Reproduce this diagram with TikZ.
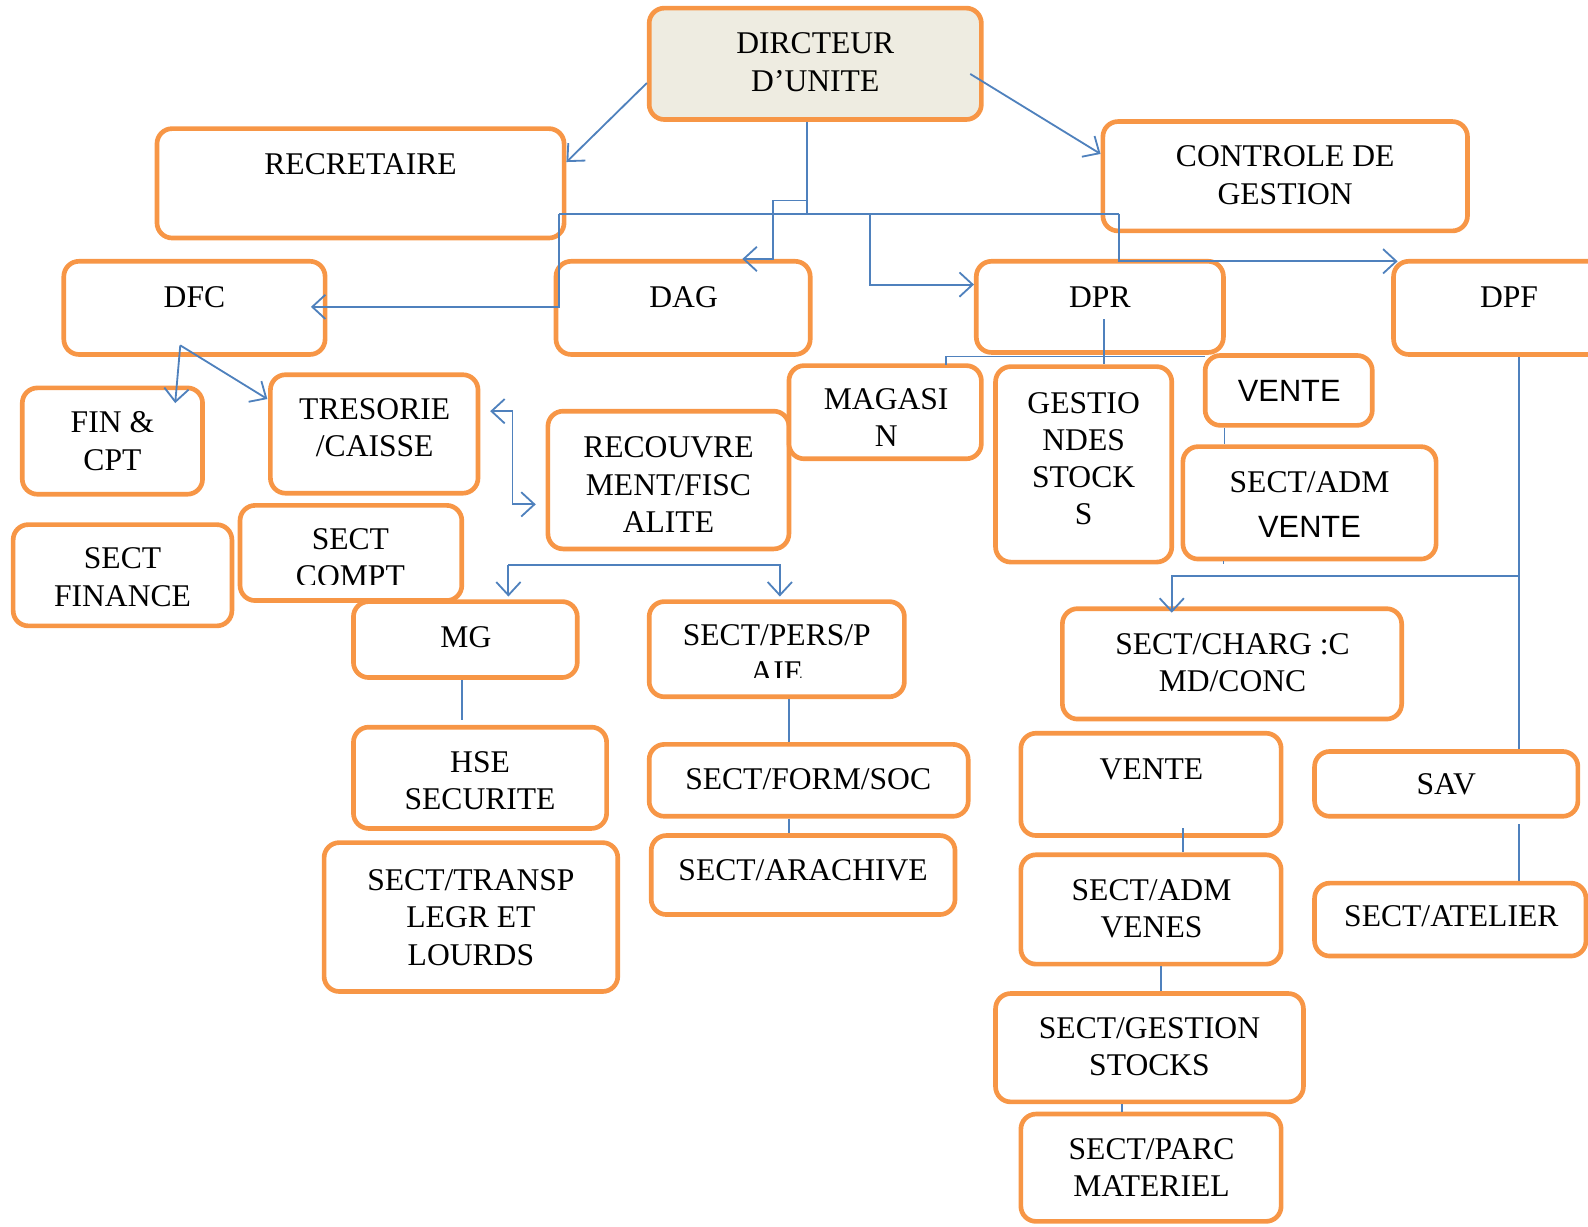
\documentclass[tikz,border=0pt]{standalone}
\usepackage{fontspec}
\setmainfont{Liberation Serif}
\newfontfamily\sansf{Liberation Sans}
\usetikzlibrary{arrows.meta,fit}
\definecolor{orgB}{HTML}{F79646}
\definecolor{bluL}{HTML}{4F81BD}
\definecolor{dirF}{HTML}{EEECE1}
\begin{document}
\begin{tikzpicture}[x=0.5pt,y=-0.5pt,
  box/.style={draw=orgB, line width=2.3pt, rounded corners=7.5pt, fill=white, inner sep=0pt},
  lbl/.style={inner sep=0pt, align=center, font=\fontsize{15.6}{18.4}\selectfont},
  conn/.style={draw=bluL, line width=0.9pt},
  arr/.style={conn, -{Straight Barb[length=6.5pt,width=12pt]}},
  darr/.style={conn, {Straight Barb[length=6.5pt,width=12pt]}-{Straight Barb[length=6.5pt,width=12pt]}}
]
\clip (0,0) rectangle (1568,1211);
% boxes
\node[box, fill=dirF, fit={(641,8) (969,118)}] (dir) {};
\node[box, fit={(155,127) (557,235)}] (rec) {};
\node[box, fit={(1089,120) (1449,228)}] (ctrl) {};
\node[box, fit={(63,258) (321,350)}] (dfc) {};
\node[box, fit={(549,258) (800,350)}] (dag) {};
\node[box, fit={(964,258) (1208,348)}] (dpr) {};
\node[box, fit={(1376,258) (1600,350)}] (dpf) {};
\node[box, fit={(22,383) (200,488)}] (fin) {};
\node[box, fit={(267,370) (472,487)}] (tres) {};
\node[box, fit={(541,406) (779,542)}] (recv) {};
\node[box, fit={(779,361) (969,453)}] (mag) {};
\node[box, fit={(983,362) (1157,555)}] (gest) {};
\node[box, fit={(1190,351) (1355,420)}] (vente1) {};
\node[box, fit={(1168,441) (1418,552)}] (sadmv) {};
\node[box, fit={(13,518) (229,618)}] (sfin) {};
\node[box, fit={(237,499) (456,593)}] (scompt) {};
\node[box, fit={(349,594) (570,669)}] (mg) {};
\node[box, fit={(641,594) (893,688)}] (pers) {};
\node[box, fit={(1049,601) (1384,710)}] (charg) {};
\node[box, fit={(349,718) (599,818)}] (hse) {};
\node[box, fit={(641,735) (956,806)}] (form) {};
\node[box, fit={(1008,724) (1265,825)}] (vente2) {};
\node[box, fit={(1298,742) (1558,806)}] (sav) {};
\node[box, fit={(320,832) (610,979)}] (transp) {};
\node[box, fit={(643,825) (943,903)}] (arch) {};
\node[box, fit={(1008,844) (1265,952)}] (venes) {};
\node[box, fit={(1298,872) (1566,944)}] (atel) {};
\node[box, fit={(983,981) (1287,1088)}] (gstk) {};
\node[box, fit={(1008,1100) (1265,1206)}] (parc) {};
% labels
\node[lbl] (t-dir) at (805,61.5) {DIRCTEUR\\D’UNITE};
\node[lbl] (t-rec) at (356,162) {RECRETAIRE};
\node[lbl] (t-ctrl) at (1269,173) {CONTROLE DE\\GESTION};
\node[lbl] (t-dfc) at (192,293) {DFC};
\node[lbl] (t-dag) at (675,293) {DAG};
\node[lbl] (t-dpr) at (1086,293) {DPR};
\node[lbl] (t-dpf) at (1490,293) {DPF};
\node[lbl] (t-fin) at (111,435.5) {FIN \&\\CPT};
\node[lbl] (t-tres) at (370,422.5) {TRESORIE\\/CAISSE};
\node[lbl] (t-recv) at (660,478.5) {RECOUVRE\\MENT/FISC\\ALITE};
\node[lbl] (t-mag) at (875,412.5) {MAGASI\\N};
\node[lbl] (t-gest) at (1070,453) {GESTIO\\NDES\\STOCK\\S};
\node[lbl, font=\fontsize{15.2}{18.4}\sansf] (t-vente1) at (1273,386) {VENTE};
\node[lbl] (t-sadmv) at (1293,498) {SECT/ADM\\[3.5pt]{\sansf\fontsize{15.2}{18.4}\selectfont VENTE}};
\node[lbl] (t-sfin) at (121,570) {SECT\\FINANCE};
\begin{scope}
\clip (237,499) rectangle (456,577);
\node[lbl] (t-scompt) at (346,551) {SECT\\COMPT};
\end{scope}
\node[lbl] (t-mg) at (460,629) {MG};
\begin{scope}
\clip (641,594) rectangle (893,669);
\node[lbl] (t-pers) at (767,645) {SECT/PERS/P\\AIE};
\end{scope}
\node[lbl] (t-charg) at (1217,654) {SECT/CHARG :C\\MD/CONC};
\node[lbl] (t-hse) at (474,770.5) {HSE\\SECURITE};
\node[lbl] (t-form) at (798,769) {SECT/FORM/SOC};
\node[lbl] (t-vente2) at (1137,760) {VENTE};
\node[lbl] (t-sav) at (1428,774) {SAV};
\node[lbl] (t-transp) at (465,906) {SECT/TRANSP\\LEGR ET\\LOURDS};
\node[lbl] (t-arch) at (793,859) {SECT/ARACHIVE};
\node[lbl] (t-venes) at (1137,897.5) {SECT/ADM\\VENES};
\node[lbl] (t-atel) at (1433,905) {SECT/ATELIER};
\node[lbl] (t-gstk) at (1135,1033.5) {SECT/GESTION\\STOCKS};
\node[lbl] (t-parc) at (1137,1153) {SECT/PARC\\MATERIEL};
% junction coordinates
\coordinate (jt) at (797,211);
\coordinate (jl) at (552,211);
\coordinate (jr) at (1105,211);
\coordinate (jm) at (859,211);
\coordinate (jdag) at (763,198);
\coordinate (jfc) at (178,341);
\coordinate (jdpr) at (1090,352);
\coordinate (jdpf) at (1500,569);
\coordinate (jbr) at (502,558);
% connectors
\draw[arr] (dir.west |- 0,82) -- (rec.east |- 0,160);
\draw[arr] (958,73) -- (ctrl.west |- 0,152);
\draw[conn] (797,0 |- dir.south) -- (jt);
\draw[conn] (jl) -- (jr);
\draw[arr] (797,198) -- (jdag) -- (763,0 |- dag.north) -- (733,0 |- dag.north);
\draw[arr] (jl) -- (552,303) -- (307,303);
\draw[arr] (jm) -- (859,281) -- (dpr.west |- 0,281);
\draw[arr] (jr) -- (1105,258) -- (1380,258);
\draw[arr] (jfc) -- (173,398);
\draw[arr] (jfc) -- (264,394);
\draw[darr] (484,406) -- (506,406) -- (506,498) -- (529,498);
\draw[arr] (jbr) -- (502,589);
\draw[arr] (jbr) -- (770,558) -- (770,589);
\draw[conn] (456,0 |- mg.south) -- (456,711);
\draw[conn] (779,0 |- pers.south) -- (779,0 |- form.north);
\draw[conn] (779,0 |- form.south) -- (779,0 |- arch.north);
\draw[conn] (1090,315) -- (1090,0 |- gest.north);
\draw[conn] (934,360) -- (934,352) -- (1190,352);
\draw[conn] (1209,0 |- vente1.south) -- (1209,0 |- sadmv.north);
\draw[conn] (1208,0 |- sadmv.south) -- (1208,557);
\draw[conn] (1500,0 |- dpf.south) -- (1500,0 |- sav.north);
\draw[arr] (jdpf) -- (1157,569) -- (1157,605);
\draw[conn] (1500,814) -- (1500,0 |- atel.north);
\draw[conn] (1168,818) -- (1168,0 |- venes.north);
\draw[conn] (1146,0 |- venes.south) -- (1146,0 |- gstk.north);
\draw[conn] (1108,0 |- gstk.south) -- (1108,0 |- parc.north);
\end{tikzpicture}
\end{document}
